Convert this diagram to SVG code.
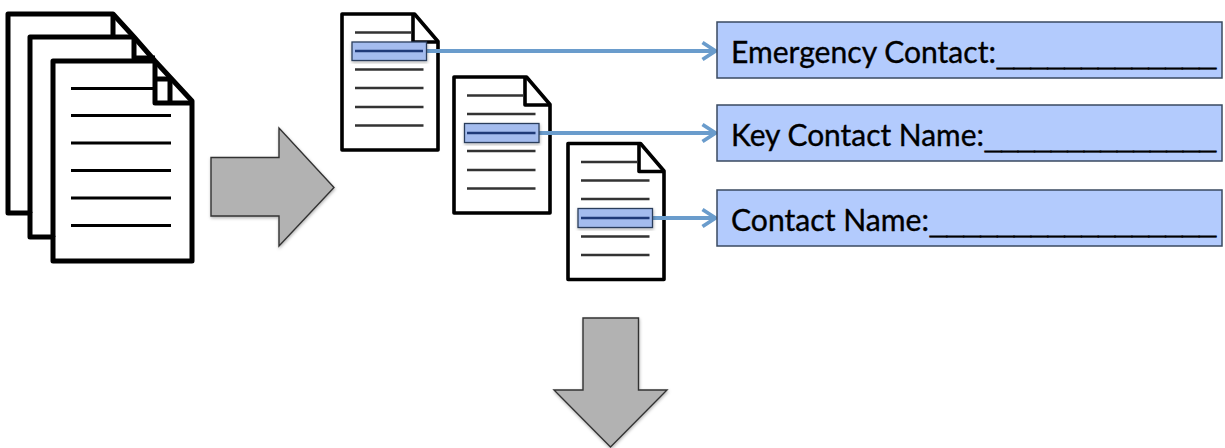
<svg xmlns="http://www.w3.org/2000/svg" width="1225" height="448" viewBox="0 0 1225 448">
<style>
.big{fill:#fff;stroke:#000;stroke-width:5;stroke-linejoin:round}
.bigl{stroke:#000;stroke-width:3.2;fill:none}
.doc{fill:#fff;stroke:#000;stroke-width:3.6;stroke-linejoin:round}
.fold{fill:none;stroke:#000;stroke-width:3.6;stroke-linejoin:round}
.ln{stroke:#333;stroke-width:2.4;fill:none}
.hl{fill:#a4bcee;stroke:#2c3e5c;stroke-width:1.3}
.hll{stroke:#1f3a78;stroke-width:2.4;fill:none}
.conn{stroke:#6a9ccc;stroke-width:3.8;fill:none;marker-end:url(#chev)}
.box{fill:#b3cbfd;stroke:#3a4a60;stroke-width:1.5}
.lbl{font-family:"Lato","Liberation Sans",sans-serif;font-size:30px;fill:#000;stroke:#000;stroke-width:0.35}
.rule{font-family:"Liberation Sans",sans-serif;font-size:30px;font-weight:bold;fill:#000;stroke:#000;stroke-width:0.9}
.blk{fill:#b2b2b2;stroke:#333;stroke-width:1.4;stroke-linejoin:miter}
</style>
<defs>
<filter id="sh" x="-10%" y="-10%" width="125%" height="125%"><feDropShadow dx="0.5" dy="1.5" stdDeviation="1.5" flood-color="#000" flood-opacity="0.3"/></filter>
<marker id="chev" markerUnits="userSpaceOnUse" markerWidth="20" markerHeight="24" refX="15.500" refY="12" orient="auto"><path d="M2 3.500L15 12L2 20.500" fill="none" stroke="#6a9ccc" stroke-width="3.8"/></marker>
<g id="smalldoc">
<path class="doc" d="M0 0H72.500L96 27.500V136H0Z"/>
<path class="fold" d="M71 0V28H96"/>
<path class="ln" d="M13 18.500H70M13 37H81.500M13 55.500H81.500M13 74H81.500M13 93H81.500M13 111.500H81.500"/>
</g>
</defs>

<g id="stack">
<path class="big" d="M8 14H113L134 37L155 61L192 101V261H53V237H30V213H8Z"/>
<path class="big" style="fill:none" d="M30 213V37H134M53 237V61H155"/>
<path class="big" style="fill:none" d="M113 14V36M134 37V58H155M155 61V103H192M155 79H170V103"/>
<path class="bigl" d="M71 88.500H155M71 115.500H171M71 143H171M71 170.500H171M71 198H171M71 225.500H171"/>
</g>

<g id="arrow-right"><path class="blk" filter="url(#sh)" d="M211 157.500H279V128L334 187.500L279 246V216H211Z"/></g>
<g id="arrow-down"><path class="blk" filter="url(#sh)" d="M583 318H638.500V390H667L610.500 447L554 390H583Z"/></g>

<g id="doc-a"><use href="#smalldoc" x="342" y="14"/></g>
<g id="doc-b"><use href="#smalldoc" x="454" y="77"/></g>
<g id="doc-c"><use href="#smalldoc" x="568" y="143.500"/></g>

<g id="connectors">
<path class="conn" d="M426 51H716"/>
<path class="conn" d="M539 133H716"/>
<path class="conn" d="M652.500 218H716"/>
</g>

<g id="highlight-a"><rect class="hl" filter="url(#sh)" x="352" y="42" width="74.500" height="18.500"/><path class="hll" d="M355 51H423"/></g>
<g id="highlight-b"><rect class="hl" filter="url(#sh)" x="464.500" y="123.500" width="74.500" height="19"/><path class="hll" d="M467 133H535.500"/></g>
<g id="highlight-c"><rect class="hl" filter="url(#sh)" x="578" y="208.500" width="74.500" height="19"/><path class="hll" d="M581 218H649.500"/></g>

<g id="field-emergency"><rect class="box" x="717" y="22" width="505" height="56"/><text class="lbl" x="731" y="63" textLength="265" lengthAdjust="spacingAndGlyphs">Emergency Contact:</text><text class="rule" x="997" y="65.500" textLength="219" lengthAdjust="spacingAndGlyphs">_____________</text></g>
<g id="field-key"><rect class="box" x="717" y="105" width="505" height="56"/><text class="lbl" x="731" y="146" textLength="253" lengthAdjust="spacingAndGlyphs">Key Contact Name:</text><text class="rule" x="985" y="148.500" textLength="231" lengthAdjust="spacingAndGlyphs">______________</text></g>
<g id="field-contact"><rect class="box" x="717" y="190" width="505" height="56"/><text class="lbl" x="731" y="231" textLength="198" lengthAdjust="spacingAndGlyphs">Contact Name:</text><text class="rule" x="930" y="233.500" textLength="286" lengthAdjust="spacingAndGlyphs">_________________</text></g>
</svg>
